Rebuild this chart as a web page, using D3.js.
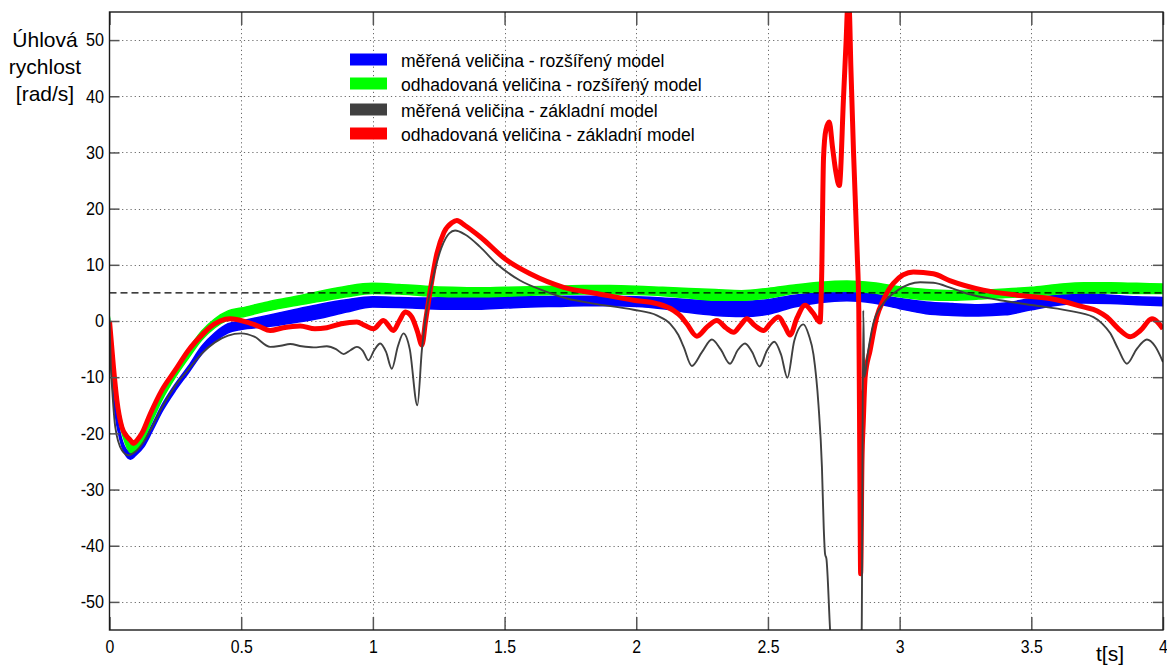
<!DOCTYPE html>
<html>
<head>
<meta charset="utf-8">
<script src="https://cdn.jsdelivr.net/npm/d3@7"></script>
<style>
  body { margin: 0; background: #fff; }
  svg { display: block; }
  text { font-family: "Liberation Sans", Arial, sans-serif; fill: #000; }
</style>
</head>
<body>
<svg id="chart" width="1167" height="666"></svg>
<script>
// Time grid shared by the two noisy bands (extended model)
const bandTime = [0,0.01,0.02,0.04,0.06,0.08,0.1,0.13,0.16,0.2,0.25,0.3,0.35,0.4,0.45,0.5,
  0.6,0.7,0.8,0.9,1.0,1.1,1.2,1.3,1.4,1.5,1.6,1.7,1.8,1.9,2.0,2.1,2.2,2.3,2.4,2.5,
  2.6,2.7,2.8,2.9,3.0,3.1,3.2,3.3,3.4,3.5,3.6,3.7,3.8,3.9,4.0];

// Measured value, extended model: lower / upper envelope of the noisy signal
const measuredExtLow = [-0.5,-11,-16,-21.2,-23.8,-24.6,-23.9,-22.4,-19.8,-16.1,-12.4,-9.2,-5.9,-3.7,-2.1,-1.5,
  -1.0,-0.3,0.5,1.6,2.5,2.4,2.2,2.1,2.1,2.3,2.5,2.6,2.7,2.7,2.6,2.2,1.5,1.0,0.8,1.2,
  2.5,3.3,3.6,3.2,2.2,1.3,1.0,0.9,1.1,2.0,2.8,3.2,3.1,2.9,2.7];
const measuredExtHigh = [0.5,-9,-14,-19.8,-22.6,-23.4,-22.7,-21.2,-18.6,-14.9,-11.2,-8.0,-4.5,-2.1,-0.5,0.0,
  1.0,2.0,3.0,3.8,4.3,4.2,4.1,4.2,4.2,4.3,4.3,4.4,4.4,4.4,4.3,4.1,3.8,3.6,3.5,3.8,
  4.6,5.0,5.1,4.8,4.0,3.4,3.1,2.9,3.2,4.0,4.6,4.9,4.6,4.3,4.2];

// Estimated value, extended model: lower / upper envelope
const estimatedExtLow = [-0.8,-8.5,-13,-18.5,-21.8,-23.4,-23.1,-21.0,-18.0,-14.0,-10.0,-6.6,-3.4,-1.2,0.2,0.7,
  1.8,2.7,3.5,4.3,4.9,4.8,4.5,4.3,4.3,4.4,4.6,4.7,4.8,4.8,4.7,4.5,4.1,3.7,3.7,4.1,
  4.9,5.2,5.3,5.0,4.3,3.8,3.7,3.9,4.2,4.4,4.8,5.0,5.0,4.9,4.9];
const estimatedExtHigh = [0.8,-5.5,-10,-16.5,-20.2,-22.0,-21.7,-19.6,-16.6,-12.6,-8.6,-5.0,-1.8,0.4,1.8,2.3,
  3.4,4.3,5.3,6.2,6.7,6.5,6.2,6.0,5.9,6.0,6.1,6.2,6.3,6.3,6.2,6.0,5.8,5.6,5.4,5.8,
  6.4,6.9,7.1,6.8,6.1,5.6,5.4,5.5,5.7,6.0,6.5,6.8,6.8,6.7,6.6];

// Measured value, basic model
const basicTime = [0,0.005,0.01,0.022,0.047,0.072,0.1,0.13,0.16,0.2,0.25,0.3,0.35,0.4,0.45,0.5,0.55,
  0.61,0.65,0.686,0.73,0.775,0.825,0.86,0.889,0.915,0.939,0.962,0.983,1.005,1.028,1.05,1.072,
  1.095,1.116,1.14,1.169,1.186,1.2,1.23,1.26,1.29,1.312,1.35,1.407,1.47,1.559,1.66,1.737,1.838,
  1.99,2.078,2.129,2.16,2.18,2.211,2.25,2.287,2.32,2.356,2.385,2.413,2.44,2.468,2.496,2.524,
  2.55,2.574,2.6,2.635,2.655,2.673,2.692,2.705,2.712,2.717,2.722,2.736,2.75,2.8,2.84,2.856,
  2.862,2.866,2.88,2.9,2.938,2.994,3.078,3.128,3.2,3.255,3.382,3.508,3.635,3.736,3.77,3.8,
  3.83,3.863,3.9,3.939,3.97,4.0];
const measuredBasic = [0,-8,-12,-18.9,-23,-23.9,-23.2,-21.5,-19,-15.3,-11.5,-8.6,-5.8,-3.8,-2.6,-2.2,-2.8,
  -4.6,-4.4,-4.1,-4.5,-4.7,-4.5,-5.0,-5.9,-5.2,-4.6,-5.3,-7.0,-5.2,-4.0,-5.5,-8.5,
  -4.5,-2.2,-5.0,-15.0,-5.2,0.5,8,13,15.6,16.1,15.4,13.2,10.2,7.2,5.2,4.0,3.1,
  2.0,1.0,-0.5,-2.5,-4.6,-8.0,-5.5,-3.3,-5.0,-7.6,-5.2,-4.0,-5.5,-8.1,-5.3,-3.7,
  -6.0,-10.1,-3.5,-0.6,-2.5,-6,-15,-26,-37,-41.5,-42.3,-55,-65,-80,-80,-55,
  1.9,-10,-5.5,-0.5,3.1,5.5,6.9,6.8,5.8,4.9,3.7,2.8,1.9,0.7,-0.5,-2.2,
  -5.0,-7.6,-5.0,-3.3,-4.5,-7.3];

// Estimated value, basic model
const estBasicTime = [0,0.015,0.028,0.047,0.065,0.079,0.091,0.105,0.123,0.155,0.199,0.249,0.3,0.357,0.382,
  0.42,0.458,0.522,0.57,0.61,0.66,0.724,0.78,0.825,0.88,0.939,0.97,1.002,1.04,1.078,1.1,1.123,
  1.148,1.17,1.186,1.2,1.218,1.243,1.27,1.3,1.319,1.35,1.407,1.509,1.597,1.724,1.85,1.99,2.078,
  2.141,2.17,2.192,2.23,2.27,2.306,2.34,2.37,2.395,2.42,2.45,2.483,2.51,2.54,2.565,2.584,2.61,
  2.641,2.67,2.698,2.704,2.711,2.72,2.733,2.745,2.758,2.771,2.787,2.797,2.803,2.808,2.815,2.825,
  2.839,2.845,2.849,2.852,2.857,2.862,2.869,2.888,2.913,2.938,2.976,3.052,3.128,3.19,3.318,3.445,
  3.57,3.698,3.75,3.787,3.838,3.876,3.914,3.958,4.0];
const estimatedBasic = [0,-8.2,-14.1,-18.9,-20.5,-21.2,-21.8,-21.2,-20,-16.5,-12.3,-8.8,-5.2,-2.2,-1.1,
  0.0,0.4,-0.2,-1.0,-1.7,-1.2,-0.9,-1.4,-1.2,-0.5,-0.2,-0.8,-1.4,0.1,-1.7,0,1.6,
  0.7,-2,-4.3,0,5.5,12,15.8,17.5,17.9,17.0,15.0,10.8,8.4,6.0,4.9,3.7,3.1,
  1.9,0.8,-0.5,-2.7,-1.0,0.1,-1.2,-2.0,-0.8,0.4,-0.8,-1.7,-0.4,0.7,-1,-2.5,0.5,
  2.8,1.5,-0.2,8,29,34,35.4,31,26.5,24.1,39.8,50,56,56,45,30,
  12,2,-27,-45,-25,-18,-10,-5.2,0.7,3.7,6.7,8.7,8.4,7.2,5.5,4.6,
  4.0,2.5,1.8,0.7,-1.7,-2.8,-1.7,0.4,-1.4];

const referenceLevel = 5;
const xTicks = [0,0.5,1,1.5,2,2.5,3,3.5,4];
const xTickLabels = ["0","0.5","1","1.5","2","2.5","3","3.5","4"];
const yTicks = [-50,-40,-30,-20,-10,0,10,20,30,40,50];
const yTickLabels = ["-50","-40","-30","-20","-10","0","10","20","30","40","50"];
const legendLabels = [
  "měřená veličina - rozšířený model",
  "odhadovaná veličina - rozšířený model",
  "měřená veličina - základní model",
  "odhadovaná veličina - základní model"
];
const legendColors = ["#0000ff", "#00ff00", "#404040", "#ff0000"];
const yTitle = ["Úhlová", "rychlost", "[rad/s]"];
const xTitle = "t[s]";

// ---- layout ----
const svg = d3.select("#chart");
const plotLeft = 109.5, plotRight = 1163, plotTop = 12, plotBottom = 630;
const x = d3.scaleLinear().domain([0, 4]).range([plotLeft, plotRight]);
const y = d3.scaleLinear().domain([-55, 55]).range([plotBottom, plotTop]);

svg.append("defs").append("clipPath").attr("id", "plotClip")
  .append("rect").attr("x", plotLeft).attr("y", plotTop)
  .attr("width", plotRight - plotLeft).attr("height", plotBottom - plotTop);

// dotted grid
const grid = svg.append("g").attr("stroke", "#6a6a6a").attr("stroke-width", 1)
  .attr("stroke-dasharray", "1.2,3");
grid.selectAll("line.gx").data(xTicks.slice(1, -1)).join("line")
  .attr("x1", d => Math.round(x(d)) + 0.5).attr("x2", d => Math.round(x(d)) + 0.5)
  .attr("y1", plotTop).attr("y2", plotBottom);
grid.selectAll("line.gy").data(yTicks).join("line")
  .attr("y1", d => Math.round(y(d)) + 0.5).attr("y2", d => Math.round(y(d)) + 0.5)
  .attr("x1", plotLeft).attr("x2", plotRight);

const plot = svg.append("g").attr("clip-path", "url(#plotClip)");

function band(lo, hi) {
  return bandTime.map((t, i) => ({ t, lo: lo[i], hi: hi[i] }));
}
const area = d3.area().x(d => x(d.t)).y0(d => y(d.lo)).y1(d => y(d.hi))
  .curve(d3.curveMonotoneX);

plot.append("path").datum(band(measuredExtLow, measuredExtHigh))
  .attr("fill", "#0000ff").attr("stroke", "#0000ff").attr("stroke-width", 1.5).attr("d", area);
plot.append("path").datum(band(estimatedExtLow, estimatedExtHigh))
  .attr("fill", "#00ff00").attr("stroke", "#00ff00").attr("stroke-width", 1.5).attr("d", area);

// reference level
plot.append("line")
  .attr("x1", plotLeft).attr("x2", plotRight)
  .attr("y1", y(referenceLevel)).attr("y2", y(referenceLevel))
  .attr("stroke", "#000").attr("stroke-width", 1.2).attr("stroke-dasharray", "7,4");

const line = d3.line().x(d => x(d[0])).y(d => y(d[1])).curve(d3.curveMonotoneX);

plot.append("path").datum(d3.zip(estBasicTime, estimatedBasic))
  .attr("fill", "none").attr("stroke", "#ff0000").attr("stroke-width", 5)
  .attr("stroke-linejoin", "round").attr("d", line);
plot.append("path").datum(d3.zip(basicTime, measuredBasic))
  .attr("fill", "none").attr("stroke", "#404040").attr("stroke-width", 1.9)
  .attr("stroke-linejoin", "round").attr("d", line);

// ---- axes: inward ticks on all four sides ----
function styleAxis(g) {
  g.select(".domain").remove();
  g.selectAll(".tick line").attr("stroke", "#555").attr("stroke-width", 1.5);
}
const xFmt = (d, i) => xTickLabels[i];
const yFmt = (d, i) => yTickLabels[i];

svg.append("g").attr("transform", `translate(0,${plotBottom})`)
  .call(d3.axisBottom(x).tickValues(xTicks).tickFormat(xFmt).tickSize(-13).tickSizeOuter(0).tickPadding(10))
  .call(styleAxis)
  .call(g => g.selectAll("text").attr("font-size", 18).attr("fill", "#000")
    .attr("font-family", '"Liberation Sans", Arial, sans-serif')
    .attr("transform", "scale(0.88,1)"));
svg.append("g").attr("transform", `translate(0,${plotTop})`)
  .call(d3.axisTop(x).tickValues(xTicks).tickFormat("").tickSize(-13).tickSizeOuter(0))
  .call(styleAxis);
svg.append("g").attr("transform", `translate(${plotLeft},0)`)
  .call(d3.axisLeft(y).tickValues(yTicks).tickFormat(yFmt).tickSize(-10).tickSizeOuter(0).tickPadding(6))
  .call(styleAxis)
  .call(g => g.selectAll("text").attr("font-size", 18).attr("fill", "#000")
    .attr("font-family", '"Liberation Sans", Arial, sans-serif')
    .attr("transform", "scale(0.9,1)"));
svg.append("g").attr("transform", `translate(${plotRight},0)`)
  .call(d3.axisRight(y).tickValues(yTicks).tickFormat("").tickSize(-10).tickSizeOuter(0))
  .call(styleAxis);

// frame
svg.append("rect").attr("x", plotLeft).attr("y", plotTop)
  .attr("width", plotRight - plotLeft).attr("height", plotBottom - plotTop)
  .attr("fill", "none").attr("stroke", "#1a1a1a").attr("stroke-width", 1.4);

// axis titles
svg.append("g").selectAll("text").data(yTitle).join("text")
  .attr("x", 45).attr("y", (d, i) => 46.5 + i * 27)
  .attr("text-anchor", "middle").attr("font-size", 21).text(d => d);
svg.append("text").attr("x", 1110).attr("y", 661).attr("text-anchor", "middle")
  .attr("font-size", 21).text(xTitle);

// legend
const legend = svg.append("g");
const legendBase = [66.5, 90.5, 116.5, 140.5];
legend.selectAll("rect").data(legendColors).join("rect")
  .attr("x", 350).attr("y", (d, i) => legendBase[i] - 13).attr("width", 37).attr("height", 12)
  .attr("fill", d => d);
legend.selectAll("text").data(legendLabels).join("text")
  .attr("transform", (d, i) => `translate(401,${legendBase[i]}) scale(0.94,1)`)
  .attr("font-size", 18.7).text(d => d);
</script>
</body>
</html>
